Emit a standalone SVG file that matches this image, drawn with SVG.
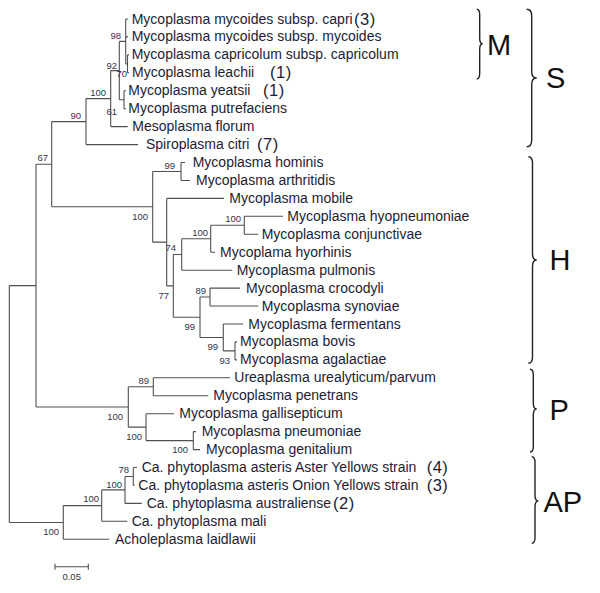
<svg xmlns="http://www.w3.org/2000/svg" width="600" height="593" viewBox="0 0 600 593">
<style>
.br{fill:none;stroke:#505050;stroke-width:1.1}
.brace{fill:none;stroke:#222;stroke-width:1.4}
.lf{font-family:"Liberation Sans",Arial,sans-serif;font-size:14px;fill:#1c1c34}
.pn{font-family:"Liberation Sans",Arial,sans-serif;font-size:16.5px;letter-spacing:0.5px;fill:#1c1c34}
.bs{font-family:"Liberation Sans",Arial,sans-serif;font-size:9.5px;fill:#333348;text-anchor:end}
.cl{font-family:"Liberation Sans",Arial,sans-serif;font-size:29px;fill:#111}
.sc{font-family:"Liberation Sans",Arial,sans-serif;font-size:9.5px;fill:#333;text-anchor:middle}
</style>
<rect width="600" height="593" fill="#fff"/>
<g id="connectors">
<path class="br" d="M9.3,285.6V522.45M9.3,285.6H36M36,164.25V406.95M36,164.25H51.7M51.7,121.6V206.8M51.7,121.6H86M86,98.6V144.6M86,98.6H110.7M86,144.6H138M110.7,70.6V126.6M110.7,70.6H119.3M110.7,126.6H127.7M119.3,41.4V99.75M119.3,41.4H125.7M119.3,99.75H124M124,90.8V108.7M124,90.8H126M124,108.7H126M125.7,19V63.85M125.7,19H128M125.7,36.9H128M125.7,63.85H127.5M127.5,54.9V72.8M127.5,54.9H129M127.5,72.8H129"/>
<path class="br" d="M51.7,206.8H152.7M152.7,171.5V242.15M152.7,171.5H181M181,162.5V180.5M181,162.5H185M181,180.5H190M152.7,242.15H166.7M166.7,198.4V285.9M166.7,198.4H224M166.7,285.9H173.3M173.3,254.5V317.25M173.3,254.5H181.7M181.7,238.75V270.2M181.7,270.2H232.3M181.7,238.75H210.7M210.7,225.3V252.2M210.7,252.2H215M210.7,225.3H244.3M244.3,216.3V234.3M244.3,216.3H283M244.3,234.3H258.3M173.3,317.25H200M200,297.05V337.45M200,297.05H210M210,288.1V306M210,288.1H240M210,306H258.3M200,337.45H223.3M223.3,324V350.9M223.3,324H243.3M223.3,350.9H235M235,341.9V359.9M235,341.9H237M235,359.9H237"/>
<path class="br" d="M36,406.95H128.3M128.3,386.75V427.15M128.3,386.75H153.3M153.3,377.8V395.7M153.3,377.8H230M153.3,395.7H208.3M128.3,427.15H146M146,413.7V440.6M146,413.7H174M146,440.6H193.3M193.3,431.6V449.6M193.3,431.6H196M193.3,449.6H200"/>
<path class="br" d="M9.3,522.45H63.3M63.3,505.6V539.3M63.3,539.3H109.3M63.3,505.6H101.7M101.7,489.9V521.3M101.7,521.3H127.3M101.7,489.9H125M125,476.45V503.4M125,503.4H141.7M125,476.45H133.3M133.3,467.5V485.4M133.3,467.5H137M133.3,485.4H134.5"/>
</g>
<g id="leaf-capri"><text class="lf" x="131.7" y="23.5">Mycoplasma mycoides subsp. capri</text><text class="pn" x="354" y="24.5">(3)</text></g>
<g id="leaf-mycoides"><text class="lf" x="131.7" y="41.4">Mycoplasma mycoides subsp. mycoides</text></g>
<g id="leaf-capricolum"><text class="lf" x="131.7" y="59.4">Mycoplasma capricolum subsp. capricolum</text></g>
<g id="leaf-leachii"><text class="lf" x="132" y="77.3">Mycoplasma leachii</text><text class="pn" x="270" y="78.3">(1)</text></g>
<g id="leaf-yeatsii"><text class="lf" x="128.3" y="95.3">Mycoplasma yeatsii</text><text class="pn" x="263" y="96.3">(1)</text></g>
<g id="leaf-putrefaciens"><text class="lf" x="128.3" y="113.2">Mycoplasma putrefaciens</text></g>
<g id="leaf-florum"><text class="lf" x="132.3" y="131.1">Mesoplasma florum</text></g>
<g id="leaf-citri"><text class="lf" x="146" y="149.1">Spiroplasma citri</text><text class="pn" x="257" y="150.1">(7)</text></g>
<g id="leaf-hominis"><text class="lf" x="192.7" y="167">Mycoplasma hominis</text></g>
<g id="leaf-arthritidis"><text class="lf" x="196" y="185">Mycoplasma arthritidis</text></g>
<g id="leaf-mobile"><text class="lf" x="229.3" y="202.9">Mycoplasma mobile</text></g>
<g id="leaf-hyopneumoniae"><text class="lf" x="287.3" y="220.8">Mycoplasma hyopneumoniae</text></g>
<g id="leaf-conjunctivae"><text class="lf" x="261.7" y="238.8">Mycoplasma conjunctivae</text></g>
<g id="leaf-hyorhinis"><text class="lf" x="220" y="256.7">Mycoplama hyorhinis</text></g>
<g id="leaf-pulmonis"><text class="lf" x="236.7" y="274.7">Mycoplasma pulmonis</text></g>
<g id="leaf-crocodyli"><text class="lf" x="246" y="292.6">Mycoplasma crocodyli</text></g>
<g id="leaf-synoviae"><text class="lf" x="261.7" y="310.5">Mycoplasma synoviae</text></g>
<g id="leaf-fermentans"><text class="lf" x="248.3" y="328.5">Mycoplasma fermentans</text></g>
<g id="leaf-bovis"><text class="lf" x="240" y="346.4">Mycoplasma bovis</text></g>
<g id="leaf-agalactiae"><text class="lf" x="240" y="364.4">Mycoplasma agalactiae</text></g>
<g id="leaf-ureaplasma"><text class="lf" x="234.3" y="382.3">Ureaplasma urealyticum/parvum</text></g>
<g id="leaf-penetrans"><text class="lf" x="213.3" y="400.2">Mycoplasma penetrans</text></g>
<g id="leaf-gallisepticum"><text class="lf" x="179.3" y="418.2">Mycoplasma gallisepticum</text></g>
<g id="leaf-pneumoniae"><text class="lf" x="201.7" y="436.1">Mycoplasma pneumoniae</text></g>
<g id="leaf-genitalium"><text class="lf" x="206" y="454.1">Mycoplasma genitalium</text></g>
<g id="leaf-aster"><text class="lf" x="141.7" y="472">Ca. phytoplasma asteris Aster Yellows strain</text><text class="pn" x="426.7" y="473">(4)</text></g>
<g id="leaf-onion"><text class="lf" x="138.3" y="489.9">Ca. phytoplasma asteris Onion Yellows strain</text><text class="pn" x="426.7" y="490.9">(3)</text></g>
<g id="leaf-australiense"><text class="lf" x="146.7" y="507.9">Ca. phytoplasma australiense</text><text class="pn" x="333" y="508.9">(2)</text></g>
<g id="leaf-mali"><text class="lf" x="131.7" y="525.8">Ca. phytoplasma mali</text></g>
<g id="leaf-acholeplasma"><text class="lf" x="115" y="543.8">Acholeplasma laidlawii</text></g>
<g id="bootstrap">
<text class="bs" x="121" y="38.5">98</text>
<text class="bs" x="117" y="68.5">92</text>
<text class="bs" x="127" y="76.5">70</text>
<text class="bs" x="106" y="95.5">100</text>
<text class="bs" x="117" y="114.5">61</text>
<text class="bs" x="81" y="118.5">90</text>
<text class="bs" x="48" y="160.5">67</text>
<text class="bs" x="175" y="168.5">99</text>
<text class="bs" x="148" y="219.5">100</text>
<text class="bs" x="176" y="250.5">74</text>
<text class="bs" x="208" y="235.5">100</text>
<text class="bs" x="241" y="221.5">100</text>
<text class="bs" x="169" y="298.5">77</text>
<text class="bs" x="206" y="293.5">89</text>
<text class="bs" x="195" y="329.5">99</text>
<text class="bs" x="218" y="349.5">99</text>
<text class="bs" x="230" y="363.5">93</text>
<text class="bs" x="149" y="383.5">89</text>
<text class="bs" x="123" y="419.5">100</text>
<text class="bs" x="142" y="439.5">100</text>
<text class="bs" x="188" y="452.5">100</text>
<text class="bs" x="129" y="472.5">78</text>
<text class="bs" x="122" y="487.5">100</text>
<text class="bs" x="99" y="501.5">100</text>
<text class="bs" x="59" y="534.5">100</text>
</g>
<g id="clade-M"><path class="brace" d="M476.7,9.3Q479.7,9.3 479.7,15V38.3Q479.7,43.8 482.7,43.8Q479.7,43.8 479.7,49.3V73.3Q479.7,79 476.7,79"/><text class="cl" x="487" y="55">M</text></g>
<g id="clade-S"><path class="brace" d="M526.7,9.3Q531.7,9.3 531.7,16V71.5Q531.7,78 536.7,78Q531.7,78 531.7,84.5V140Q531.7,146.7 526.7,146.7"/><text class="cl" x="546" y="88">S</text></g>
<g id="clade-H"><path class="brace" d="M528.3,156.7Q532.5,156.7 532.5,163V253.5Q532.5,260 536.7,260Q532.5,260 532.5,266.5V357Q532.5,363.3 528.3,363.3"/><text class="cl" x="549.5" y="270">H</text></g>
<g id="clade-P"><path class="brace" d="M530,369.3Q533.3,369.3 533.3,375V403Q533.3,409 536.7,409Q533.3,409 533.3,415V446.5Q533.3,452 530,452"/><text class="cl" x="549.5" y="420">P</text></g>
<g id="clade-AP"><path class="brace" d="M531.7,456.7Q535,456.7 535,462.5V495Q535,501 538.3,501Q535,501 535,507V537.5Q535,543.3 531.7,543.3"/><text class="cl" x="543.5" y="511.7">AP</text></g>
<g id="scale"><path class="br" d="M55,566.7H88.3M55,563.7V569.7M88.3,563.7V569.7"/><text class="sc" x="71.7" y="579.5">0.05</text></g>
</svg>
